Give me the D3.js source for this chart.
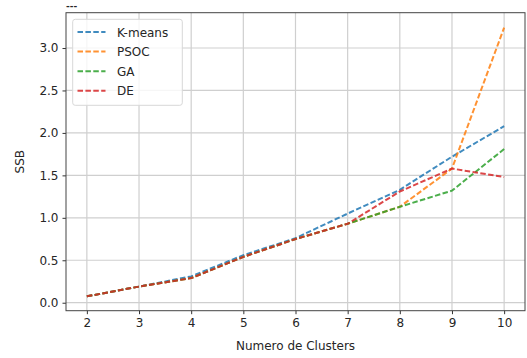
<!DOCTYPE html>
<html><head><meta charset="utf-8">
<script src="https://cdn.jsdelivr.net/npm/d3@7"></script>
<style>body{margin:0;background:#fff}svg{display:block}text{font-family:"DejaVu Sans",sans-serif;fill:#262626}</style>
</head><body><svg id="c" width="527" height="358"></svg>
<script>
const clusters = [2,3,4,5,6,7,8,9,10];
const kmeans = [0.075,0.19,0.31,0.56,0.76,1.05,1.33,1.72,2.08];
const psoc   = [0.075,0.19,0.29,0.54,0.75,0.93,1.13,1.58,3.24];
const ga     = [0.075,0.19,0.29,0.54,0.75,0.93,1.13,1.32,1.81];
const de     = [0.075,0.19,0.29,0.54,0.75,0.93,1.31,1.58,1.48];
const seriesNames = ["K-means","PSOC","GA","DE"];
const seriesColors = ["#1f77b4","#ff7f0e","#2ca02c","#d62728"];
const xTicks = [2,3,4,5,6,7,8,9,10];
const yTicks = [0,0.5,1,1.5,2,2.5,3];

const svg = d3.select("#c");
const L=66, R=525, T=12.7, B=310.7;
const x = d3.scaleLinear().domain([1.6,10.4]).range([L,R]);
const y = d3.scaleLinear().domain([-0.094,3.416]).range([B,T]);
const FS="12px";

// grid
const g = svg.append("g");
g.selectAll(".gx").data(xTicks).enter().append("line")
 .attr("x1",d=>x(d)).attr("x2",d=>x(d)).attr("y1",T).attr("y2",B)
 .attr("stroke","#cfcfcf").attr("stroke-width",1.2);
g.selectAll(".gy").data(yTicks).enter().append("line")
 .attr("y1",d=>y(d)).attr("y2",d=>y(d)).attr("x1",L).attr("x2",R)
 .attr("stroke","#cfcfcf").attr("stroke-width",1.2);

// axes
const xa = svg.append("g").attr("transform",`translate(0,${B})`)
 .call(d3.axisBottom(x).tickValues(xTicks).tickFormat(d3.format("d")).tickSize(3.5).tickPadding(4));
const ya = svg.append("g").attr("transform",`translate(${L},0)`)
 .call(d3.axisLeft(y).tickValues(yTicks).tickFormat(d3.format(".1f")).tickSize(3.5).tickPadding(4));
[xa,ya].forEach(a=>{a.select(".domain").remove();a.selectAll("line").attr("stroke","#333");
 a.selectAll("text").style("font-size",FS).style("font-family","DejaVu Sans").attr("fill","#262626");});

// lines
const allSeries=[kmeans,psoc,ga,de];
const line = d3.line().x((d,i)=>x(clusters[i])).y(d=>y(d));
allSeries.forEach((s,i)=>{
 svg.append("path").datum(s).attr("d",line).attr("fill","none")
  .attr("stroke",seriesColors[i]).attr("stroke-opacity",0.85).attr("stroke-width",2)
  .attr("stroke-dasharray","5.5,2.4");
});

// frame
svg.append("rect").attr("x",L).attr("y",T).attr("width",R-L).attr("height",B-T)
 .attr("fill","none").attr("stroke","#444").attr("stroke-width",1);

// legend
const lg = svg.append("g");
lg.append("rect").attr("x",72.7).attr("y",19.3).attr("width",109.6).attr("height",86)
 .attr("rx",2.5).attr("fill","#fff").attr("fill-opacity",0.8).attr("stroke","#d8d8d8");
seriesNames.forEach((n,i)=>{
 const yy=32+i*19.6;
 lg.append("line").attr("x1",77.5).attr("x2",105.5).attr("y1",yy).attr("y2",yy)
  .attr("stroke",seriesColors[i]).attr("stroke-opacity",0.85).attr("stroke-width",2).attr("stroke-dasharray","5.5,2.4");
 lg.append("text").attr("x",117).attr("y",yy+4.5).style("font-size",FS).text(n);
});

// labels
svg.append("text").attr("x",(L+R)/2).attr("y",350).attr("text-anchor","middle").style("font-size",FS).text("Numero de Clusters");
svg.append("text").attr("transform",`translate(24,${(T+B)/2}) rotate(-90)`).attr("text-anchor","middle").style("font-size",FS).text("SSB");
svg.append("text").attr("x",66).attr("y",8.5).style("font-size","9px").style("font-weight","bold").attr("fill","#444").text("---");
</script></body></html>
